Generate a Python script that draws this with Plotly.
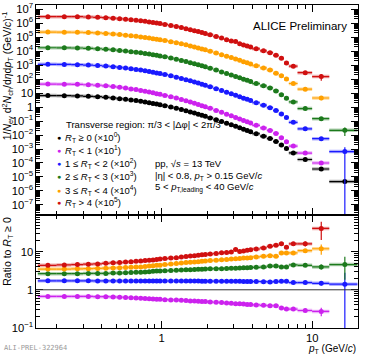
import plotly.graph_objects as go
from plotly.subplots import make_subplots

# pT bin edges (GeV/c)
pt_edges = [0.15, 0.2, 0.25, 0.3, 0.35, 0.4, 0.45, 0.5, 0.55, 0.6, 0.65, 0.7, 0.75, 0.8, 0.85, 0.9, 0.95, 1.0,
            1.1, 1.2, 1.3, 1.4, 1.5, 1.6, 1.7, 1.8, 1.9, 2.0,
            2.2, 2.4, 2.6, 2.8, 3.0, 3.2, 3.4, 3.6, 3.8, 4.0,
            4.5, 5.0, 5.5, 6.0, 6.5, 7.0, 8.0, 10.0, 13.0, 20.0]

# R_T >= 0 spectrum, 1/Nev d2N/detadpT
spec_all = [6.6, 6.5, 6.3, 5.9, 5.5, 5.0, 4.5, 4.0, 3.6, 3.2, 2.9, 2.6, 2.3, 2.05, 1.82, 1.63, 1.46,
            1.24, 1.0, 0.81, 0.66, 0.54, 0.445, 0.37, 0.31, 0.257, 0.216,
            0.168, 0.122, 0.091, 0.069, 0.054, 0.042, 0.033, 0.026, 0.0214, 0.0174,
            0.0123, 0.0083, 0.0056, 0.0034, 0.0019, 0.00107,
            0.00052, 0.000178, 3.7e-5, 4.7e-6]

# ratios to R_T >= 0
ratio_rt0 = [0.67, 0.67, 0.67, 0.67, 0.66, 0.66, 0.65, 0.64, 0.63, 0.62, 0.61, 0.60, 0.59, 0.58, 0.57, 0.56, 0.56,
             0.55, 0.54, 0.54, 0.53, 0.52, 0.51, 0.51, 0.50, 0.49, 0.49,
             0.48, 0.47, 0.46, 0.45, 0.44, 0.43, 0.43, 0.42, 0.41, 0.41,
             0.40, 0.39, 0.38, 0.38, 0.33, 0.31,
             0.31, 0.285, 0.27]
ratio_rt1 = [1.72, 1.72, 1.72, 1.72, 1.71, 1.71, 1.71, 1.70, 1.70, 1.70, 1.70, 1.70, 1.70, 1.70, 1.70, 1.70, 1.70,
             1.70, 1.70, 1.70, 1.70, 1.69, 1.69, 1.69, 1.69, 1.68, 1.68,
             1.68, 1.68, 1.68, 1.67, 1.67, 1.67, 1.67, 1.66, 1.66, 1.66,
             1.65, 1.63, 1.61, 1.64, 1.67, 1.67,
             1.55, 1.55, 1.48, 1.40]
ratio_rt2 = [2.65, 2.65, 2.65, 2.7, 2.7, 2.7, 2.75, 2.75, 2.8, 2.85, 2.9, 2.9, 2.95, 3.0, 3.05, 3.1, 3.1,
             3.15, 3.2, 3.25, 3.3, 3.35, 3.35, 3.4, 3.45, 3.45, 3.5,
             3.55, 3.6, 3.6, 3.65, 3.7, 3.7, 3.75, 3.8, 3.8, 3.85,
             3.9, 3.95, 4.2, 4.2, 4.0, 4.0,
             4.5, 4.4, 4.0, 4.6]
ratio_rt3 = [3.5, 3.5, 3.55, 3.6, 3.65, 3.7, 3.75, 3.8, 3.85, 3.9, 3.95, 4.0, 4.1, 4.2, 4.3, 4.4, 4.45,
             4.6, 4.75, 4.9, 5.05, 5.2, 5.3, 5.4, 5.5, 5.6, 5.7,
             5.85, 6.0, 6.15, 6.3, 6.4, 6.5, 6.65, 6.8, 6.9, 7.0,
             7.3, 7.6, 7.9, 7.6, 9.3, 9.3,
             9.3, 10.7, 12.0]
ratio_rt4 = [4.4, 4.5, 4.6, 4.7, 4.8, 4.95, 5.1, 5.2, 5.35, 5.5, 5.6, 5.75, 5.9, 6.0, 6.1, 6.25, 6.4,
             6.6, 6.8, 7.0, 7.3, 7.5, 7.7, 7.9, 8.1, 8.3, 8.5,
             8.7, 9.0, 9.4, 9.6, 9.9, 11.5, 10.2, 10.5, 11.0, 11.3,
             11.8, 12.6, 13.9, 14.8, 16.2, 13.1,
             16.2, 16.2, 41.0]

# relative stat. uncertainty of the last bins (7-8, 8-10, 10-13, 13-20)
stat_all = [0.02, 0.03, 0.06, 0.3]
stat_rt0 = [0.04, 0.06, 0.25]
stat_rt1 = [0.03, 0.05, 0.12, 1.0]
stat_rt2 = [0.05, 0.08, 0.15, 0.6]
stat_rt3 = [0.06, 0.1, 0.3]
stat_rt4 = [0.1, 0.15, 0.5]

series = [
    ("all", spec_all, None, stat_all, 0, "#000000", "rgba(0,0,0,0.30)"),
    ("rt0", spec_all, ratio_rt0, stat_rt0, 1, "#cc22ee", "rgba(204,34,238,0.35)"),
    ("rt1", spec_all, ratio_rt1, stat_rt1, 2, "#1a1aff", "rgba(26,26,255,0.35)"),
    ("rt2", spec_all, ratio_rt2, stat_rt2, 3, "#1c7a1c", "rgba(28,122,28,0.35)"),
    ("rt3", spec_all, ratio_rt3, stat_rt3, 4, "#ffa000", "rgba(255,160,0,0.40)"),
    ("rt4", spec_all, ratio_rt4, stat_rt4, 5, "#d01010", "rgba(208,16,16,0.35)"),
]

centers = [(pt_edges[i] + pt_edges[i + 1]) / 2 for i in range(len(pt_edges) - 1)]

fig = make_subplots(rows=2, cols=1, shared_xaxes=True, vertical_spacing=0)


def add_points(x_lo, x_hi, xc, vals, rel, row, color, band):
    n = len(vals)
    errs = [0.0] * (n - len(rel)) + rel
    # systematic boxes: one thick light segment per bin
    bx, by = [], []
    for lo, hi, v in zip(x_lo, x_hi, vals):
        bx += [lo, hi, None]
        by += [v, v, None]
    fig.add_trace(go.Scatter(
        x=bx, y=by, mode="lines", connectgaps=False,
        line=dict(color=band, width=3.5),
        hoverinfo="skip", showlegend=False), row=row, col=1)
    fig.add_trace(go.Scatter(
        x=xc, y=vals, mode="markers",
        marker=dict(color=color, size=5, symbol="circle"),
        error_x=dict(type="data", symmetric=False,
                     array=[h - c for h, c in zip(x_hi, xc)],
                     arrayminus=[c - l for c, l in zip(xc, x_lo)],
                     color=color, thickness=1.2, width=0),
        error_y=dict(type="data", array=[v * e for v, e in zip(vals, errs)],
                     color=color, thickness=1.2, width=0),
        showlegend=False), row=row, col=1)


for name, base, ratio, rel, k, color, band in series:
    n = len(ratio) if ratio else len(base)
    x_lo = pt_edges[:n]
    x_hi = pt_edges[1:n + 1]
    xc = centers[:n]
    if ratio is None:
        spec = base[:n]
    else:
        spec = [b * r * 10 ** k for b, r in zip(base[:n], ratio)]
    add_points(x_lo, x_hi, xc, spec, rel, 1, color, band)
    if ratio is not None:
        add_points(x_lo, x_hi, xc, ratio, rel, 2, color, band)

fig.add_hline(y=1, line=dict(color="#333333", width=1), row=2, col=1)

font = "Liberation Sans, Arial, sans-serif"
axis_common = dict(
    type="log", showline=True, linecolor="black", linewidth=1, mirror="ticks",
    ticks="inside", ticklen=7, tickcolor="black", showgrid=False, zeroline=False,
    dtick=1, exponentformat="power", ticklabeloverflow="allow",
    tickfont=dict(family=font, size=9, color="black"),
    minor=dict(ticks="inside", ticklen=4, dtick="D1", tickcolor="black", showgrid=False),
)
fig.update_xaxes(**axis_common, range=[-0.836, 1.305])
fig.update_xaxes(showticklabels=False, row=1, col=1)
fig.update_xaxes(ticklabelstandoff=0, row=2, col=1)
fig.update_yaxes(**axis_common)
fig.update_yaxes(range=[-7.75, 7.30], domain=[0.3486, 1.0], row=1, col=1)
fig.update_yaxes(range=[-1.005, 1.956], domain=[0.0, 0.3486], row=2, col=1)

ann = []


def txt(x, y, s, size=9.5, xanchor="left", yanchor="middle", color="black", fam=font, angle=0):
    ann.append(dict(x=x, y=y, xref="paper", yref="paper", text=s, showarrow=False,
                    xanchor=xanchor, yanchor=yanchor, textangle=angle,
                    font=dict(family=fam, size=size, color=color)))


txt(0.668, 0.934, "ALICE Preliminary", size=11.5)
txt(0.087, 0.63, "Transverse region: π/3 < |Δφ| < 2π/3")
legend_rows = [
    ("<i>R</i><sub>T</sub> ≥ 0 (×10<sup>0</sup>)", "#000000"),
    ("<i>R</i><sub>T</sub> < 1 (×10<sup>1</sup>)", "#cc22ee"),
    ("1 ≤ <i>R</i><sub>T</sub> < 2 (×10<sup>2</sup>)", "#1a1aff"),
    ("2 ≤ <i>R</i><sub>T</sub> < 3 (×10<sup>3</sup>)", "#1c7a1c"),
    ("3 ≤ <i>R</i><sub>T</sub> < 4 (×10<sup>4</sup>)", "#ffa000"),
    ("<i>R</i><sub>T</sub> > 4 (×10<sup>5</sup>)", "#d01010"),
]
legend_y = [0.590, 0.550, 0.509, 0.468, 0.427, 0.390]
for (label, col), yy in zip(legend_rows, legend_y):
    txt(0.072, yy, "●", size=7, xanchor="center", color=col)
    txt(0.085, yy, label)
txt(0.362, 0.509, "pp, √<i>s</i> = 13 TeV")
txt(0.362, 0.472, "|η| < 0.8, <i>p</i><sub>T</sub> > 0.15 GeV/<i>c</i>")
txt(0.362, 0.435, "5 < <i>p</i><sub>T,leading</sub> < 40 GeV/<i>c</i>")

txt(-0.087, 0.988, "1/<i>N</i><sub>ev</sub> d<sup>2</sup><i>N</i><sub>ch</sub>/d<i>η</i>d<i>p</i><sub>T</sub> (GeV/<i>c</i>)<sup>-1</sup>",
    size=10.5, xanchor="center", yanchor="top", angle=-90)
txt(-0.087, 0.352, "Ratio to <i>R</i><sub>T</sub> ≥ 0", size=10.5, xanchor="center", yanchor="top", angle=-90)
txt(1.0, -0.066, "<i>p</i><sub>T</sub> (GeV/<i>c</i>)", size=10, xanchor="right")
txt(-0.105, -0.061, "ALI-PREL-322964", size=7, color="#999999", fam="DejaVu Sans Mono, monospace")

fig.update_layout(
    width=366, height=354,
    margin=dict(l=36, r=8, t=1, b=26),
    paper_bgcolor="white", plot_bgcolor="white",
    showlegend=False,
    annotations=ann,
)

# page body has a default 8px margin; drop it so the figure sits at the window corner
fig.write_html("out.html", config={"displayModeBar": False},
               post_script="document.body.style.margin='0';")
